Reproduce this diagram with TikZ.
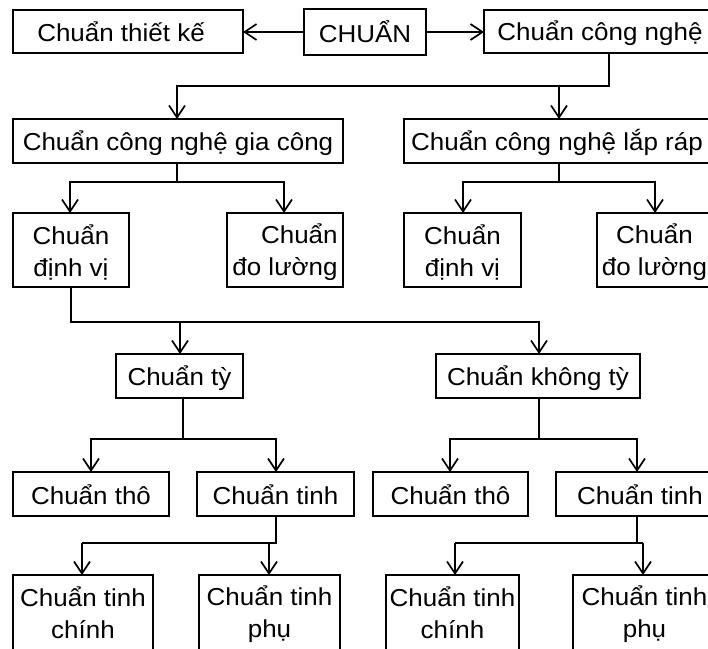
\documentclass[tikz,border=0pt]{standalone}
\usepackage{fontspec}
\setmainfont{Liberation Sans}[FakeStretch=1.06]
\usetikzlibrary{arrows.meta}

% even line height for every label line
\newcommand{\ls}{\rule[-4pt]{0pt}{28pt}}

% a box given by its left, top, right and bottom edges (pixel units, y downwards)
\newcommand{\boxat}[7][center]{%
  \node[box, align=#1,
        minimum width={((#5)-(#3))*1pt},
        minimum height={((#6)-(#4))*1pt}]
       (#2) at ({((#3)+(#5))/2},{((#4)+(#6))/2}) {#7};}

\begin{document}
\begin{tikzpicture}[x=1pt, y=-1pt,
  box/.style={draw, line width=1.7pt, inner sep=0pt, outer sep=0pt,
              font=\fontsize{24.5}{32}\selectfont},
  link/.style={line width=1.7pt},
  arr/.style={link, -{Straight Barb[length=12pt, width=16pt]}}]

\clip (0,0) rectangle (708,648);
\fill[white] (0,0) rectangle (708,648);

% top row
\boxat{thietke}{13}{10}{243}{53}{\ls Chuẩn thiết kế\hspace*{14pt}}
\boxat{chuan}{304}{9}{426}{55}{\ls CHUẨN}
\boxat{congnghe}{484}{10}{716}{53}{\ls Chuẩn công nghệ}

% second row
\boxat{giacong}{13}{119}{343}{163}{\ls Chuẩn công nghệ gia công}
\boxat{laprap}{404}{119}{710}{163}{\ls Chuẩn công nghệ lắp ráp}

% third row
\boxat{dinhviA}{13}{213}{129}{287}{\ls Chuẩn\\\ls định vị}
\boxat[right]{doluongA}{227}{213}{343}{287}{\ls Chuẩn\\\ls đo lường}
\boxat{dinhviB}{404}{213}{521}{287}{\ls Chuẩn\\\ls định vị}
\boxat{doluongB}{597}{213}{712}{287}{\ls Chuẩn\\\ls đo lường}

% fourth row
\boxat{ty}{116}{354}{243}{398}{\ls Chuẩn tỳ}
\boxat{khongty}{436}{354}{640}{398}{\ls Chuẩn không tỳ}

% fifth row
\boxat{thoA}{13}{472}{169}{516}{\ls Chuẩn thô}
\boxat{tinhA}{197}{472}{354}{516}{\ls Chuẩn tinh}
\boxat{thoB}{373}{472}{528}{516}{\ls Chuẩn thô}
\boxat{tinhB}{556}{472}{724}{516}{\ls Chuẩn tinh}

% bottom row
\boxat{chinhA}{13}{575}{153}{650}{\ls Chuẩn tinh\\\ls chính}
\boxat{phuA}{199}{575}{340}{650}{\ls Chuẩn tinh\\\ls phụ}
\boxat{chinhB}{386}{575}{519}{650}{\ls Chuẩn tinh\\\ls chính}
\boxat{phuB}{573}{575}{716}{650}{\ls Chuẩn tinh\\\ls phụ}

% connectors
\draw[arr] (chuan.west) -- (chuan.west -| thietke.east);
\draw[arr] (chuan.east) -- (chuan.east -| congnghe.west);

\draw[arr] (congnghe.south -| 609,0) |- (177,86) -- (giacong.north -| 177,0);
\draw[arr] (559,86) -- (laprap.north -| 559,0);

\draw[arr] (giacong.south -| 177,0) |- (70,182) -- (dinhviA.north -| 70,0);
\draw[arr] (177,182) -| (doluongA.north -| 284,0);

\draw[arr] (laprap.south -| 559,0) |- (463,182) -- (dinhviB.north -| 463,0);
\draw[arr] (559,182) -| (doluongB.north -| 655,0);

\draw[arr] (dinhviA.south -| 71,0) |- (539,322) -- (khongty.north -| 539,0);
\draw[arr] (180,322) -- (ty.north -| 180,0);

\draw[arr] (ty.south -| 183,0) |- (91,439) -- (thoA.north -| 91,0);
\draw[arr] (183,439) -| (tinhA.north -| 276,0);

\draw[arr] (khongty.south -| 539,0) |- (450,439) -- (thoB.north -| 450,0);
\draw[arr] (539,439) -| (tinhB.north -| 637,0);

\draw[link] (tinhA.south -| 276,0) |- (82,543);
\draw[arr] (82,543) -- (chinhA.north -| 82,0);
\draw[arr] (269,543) -- (phuA.north -| 269,0);

\draw[link] (tinhB.south -| 637,0) |- (643,543) -- (455,543);
\draw[arr] (455,543) -- (chinhB.north -| 455,0);
\draw[arr] (643,543) -- (phuB.north -| 643,0);
\end{tikzpicture}
\end{document}
